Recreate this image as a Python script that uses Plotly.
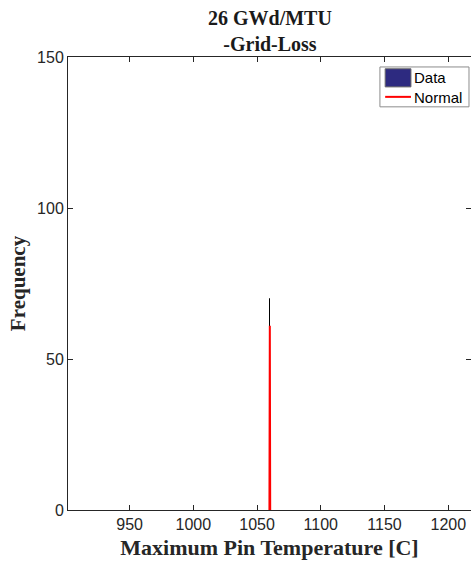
import plotly.graph_objects as go

# Histogram of maximum pin temperature (single populated bin)
bin_centers = [1060.0]
bin_counts = [70]
bin_width = 0.4

# Fitted normal density, scaled to counts
normal_x = [1059.7, 1059.85, 1060.0, 1060.15, 1060.3]
normal_y = [0, 30, 61, 30, 0]

x_ticks = [950, 1000, 1050, 1100, 1150, 1200]
y_ticks = [0, 50, 100, 150]

legend_labels = ["Data", "Normal"]
data_color = "#2d2a80"
normal_color = "#ff0000"

serif = "Liberation Serif, Times New Roman, serif"
sans = "Liberation Sans, Arial, sans-serif"
ink = "#262626"

fig = go.Figure()
fig.add_trace(go.Bar(
    x=bin_centers, y=bin_counts, width=bin_width, name=legend_labels[0],
    marker=dict(color=data_color, line=dict(color="black", width=1)),
))
fig.add_trace(go.Scatter(
    x=normal_x, y=normal_y, mode="lines", name=legend_labels[1],
    line=dict(color=normal_color, width=2),
))

axis_common = dict(
    showline=True, linecolor=ink, linewidth=1, mirror="ticks",
    ticks="inside", ticklen=5, tickcolor=ink, showgrid=False, zeroline=False,
    tickfont=dict(family=sans, size=16, color=ink),
)

# Boxed legend in the top-right corner (paper coordinates)
shapes = [
    dict(type="rect", xref="paper", yref="paper", x0=0.774, x1=0.995, y0=0.890, y1=0.978,
         fillcolor="white", line=dict(color="#8c8c8c", width=1), layer="above"),
    dict(type="rect", xref="paper", yref="paper", x0=0.787, x1=0.851, y0=0.934, y1=0.974,
         fillcolor=data_color, line=dict(color="#6a6a6a", width=1), layer="above"),
    dict(type="line", xref="paper", yref="paper", x0=0.787, x1=0.851, y0=0.912, y1=0.912,
         line=dict(color=normal_color, width=2), layer="above"),
]
annotations = [
    dict(text=legend_labels[0], xref="paper", yref="paper", x=0.853, y=0.954,
         xanchor="left", yanchor="middle", showarrow=False,
         font=dict(family=sans, size=15, color="black")),
    dict(text=legend_labels[1], xref="paper", yref="paper", x=0.853, y=0.910,
         xanchor="left", yanchor="middle", showarrow=False,
         font=dict(family=sans, size=15, color="black")),
    dict(text="<b>26 GWd/MTU<br>-Grid-Loss</b>", xref="paper", yref="paper",
         x=0.5, y=1, xanchor="center", yanchor="bottom", yshift=0, showarrow=False,
         font=dict(family=serif, size=20, color="#1a1a1a")),
]

fig.update_layout(
    width=471, height=569,
    margin=dict(l=68, r=0, t=57, b=59),
    paper_bgcolor="white", plot_bgcolor="white",
    xaxis=dict(
        range=[901.7, 1217.8], tickvals=x_ticks,
        title=dict(text="<b>Maximum Pin Temperature [C]</b>",
                   font=dict(family=serif, size=22, color=ink), standoff=7),
        **axis_common,
    ),
    yaxis=dict(
        range=[0, 150], tickvals=y_ticks,
        title=dict(text="<b>Frequency</b>",
                   font=dict(family=serif, size=21, color=ink), standoff=5),
        **axis_common,
    ),
    shapes=shapes,
    annotations=annotations,
    showlegend=False,
    bargap=0,
)

fig.write_html("out.html")
